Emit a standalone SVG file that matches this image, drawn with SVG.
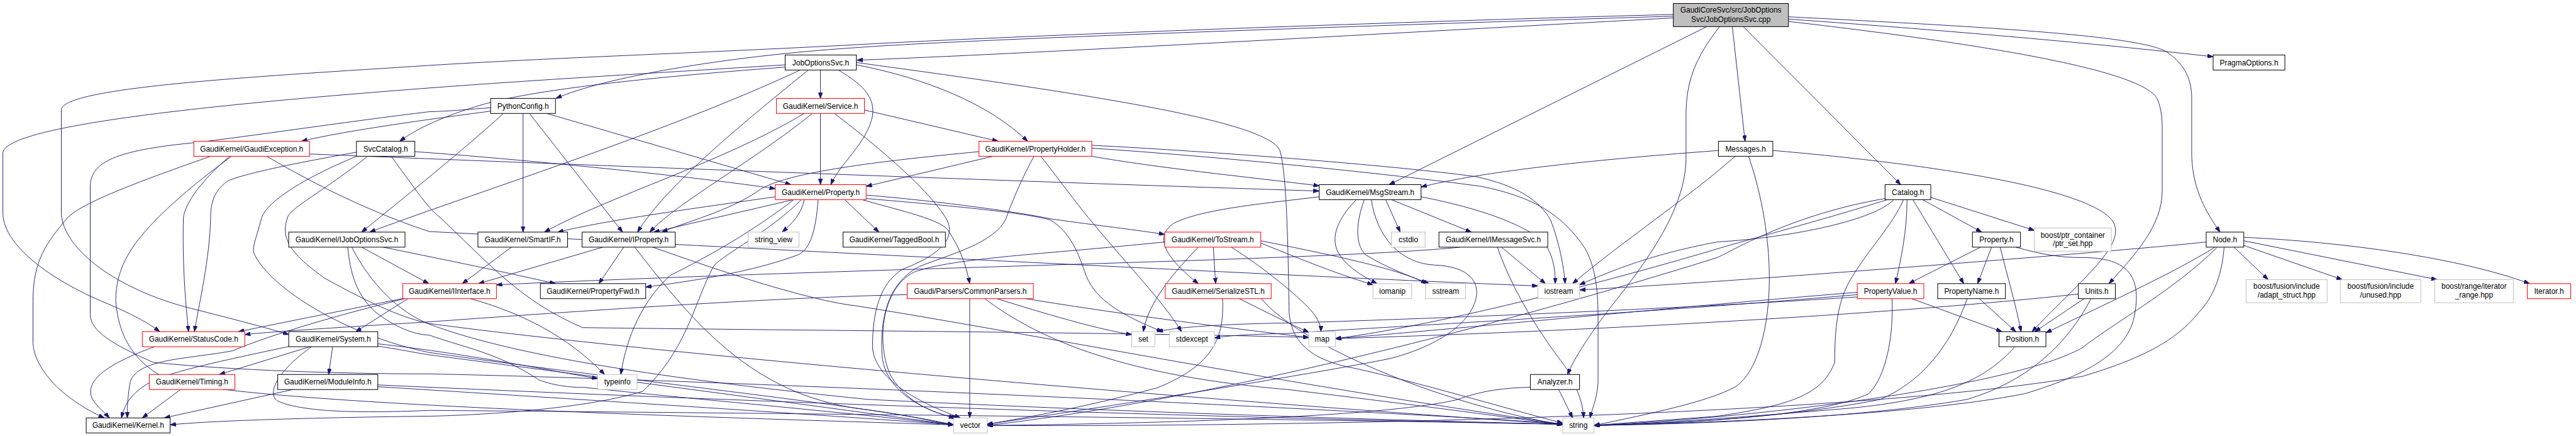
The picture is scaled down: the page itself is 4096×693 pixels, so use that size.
<svg xmlns="http://www.w3.org/2000/svg" width="4096" height="693" viewBox="0 0 4096 693">
<style>
.e path{fill:none;stroke:#191970;stroke-width:1}
.n rect{fill:#fff;stroke:#000;stroke-width:1.1}
.r rect{stroke:#ff0000}
.g rect{stroke:#bfbfbf}
.root rect{fill:#bfbfbf}
text{font-family:"Liberation Sans",Arial,sans-serif;font-size:13px;text-anchor:middle;fill:#000}
</style>
<defs>
<marker id="a" viewBox="0 0 10 7" refX="10" refY="3.5" markerWidth="10" markerHeight="7" markerUnits="userSpaceOnUse" orient="auto"><path d="M0,0L10,3.5L0,7z" fill="#191970" stroke="#191970" stroke-width="1"/></marker>
</defs>
<rect width="4096" height="693" fill="#fff"/>
<g transform="scale(0.92)">
<g id="edges" class="e" marker-end="url(#a)">
<path d="M2892,31 C2500,52 1800,92 1481,104"/>
<path d="M2892,28 C2500,40 1700,66 1484,82 C1250,97 1040,135 961,170"/>
<path d="M2892,25 C2400,38 1750,62 1484,77 C1200,92 950,100 742,113 C450,132 106,150 106,190 L106,370 C110,430 200,500 331,533 C410,553 460,566 499,578"/>
<path d="M2950,46 L2401,319"/>
<path d="M2972,46 C2930,100 2914,140 2914,200 L2914,280 C2910,350 2870,420 2800,510 C2760,560 2725,610 2709,647"/>
<path d="M2994,46 L3016,244"/>
<path d="M3013,46 L3285,319"/>
<path d="M3091,29 C3400,45 3700,60 3745,90 C3778,112 3788,140 3788,170 L3788,270 C3790,330 3815,370 3837,401"/>
<path d="M3091,33 C3400,55 3650,78 3825,98"/>
<path d="M3091,37 C3420,75 3700,120 3728,170 C3737,190 3737,210 3737,230 L3737,330 C3737,390 3690,440 3645,490"/>
<path d="M1357,112 C1100,128 900,140 742,152 C400,178 5,215 5,265 L5,370 C8,430 100,490 189,526 C230,544 255,557 276,573"/>
<path d="M1357,116 C1100,135 900,158 820,185 C770,200 720,222 691,244"/>
<path d="M1383,121 C1150,230 800,340 639,401"/>
<path d="M1397,121 C1300,200 1150,320 1102,401"/>
<path d="M1418,121 L1418,170"/>
<path d="M1449,121 C1495,148 1512,170 1508,200 C1500,245 1450,285 1436,319"/>
<path d="M1480,112 C1600,135 1710,180 1776,244"/>
<path d="M1480,108 C1900,165 2190,210 2212,260 C2224,300 2226,420 2228,540 C2232,600 2280,625 2340,636 C2450,660 2600,705 2701,731"/>
<path d="M848,192 C750,205 600,225 521,244"/>
<path d="M848,186 C800,190 760,193 742,193 C600,210 400,240 331,247 C200,260 158,280 156,320 L156,543 C156,570 189,593 265,626 C400,640 600,646 742,646 C1200,655 2300,705 2701,732"/>
<path d="M870,196 C800,260 700,340 625,401"/>
<path d="M904,196 L904,401"/>
<path d="M915,196 L1076,401"/>
<path d="M945,196 L1367,319"/>
<path d="M1390,196 C1250,280 1050,340 941,401"/>
<path d="M1404,196 C1300,280 1170,350 1123,401"/>
<path d="M1418,196 L1418,319"/>
<path d="M1494,190 L1725,244"/>
<path d="M1442,196 C1500,240 1600,320 1635,377 C1660,420 1600,450 1560,465 C1520,490 1508,540 1508,600 C1512,660 1600,700 1660,722"/>
<path d="M1716,270 L1497,322"/>
<path d="M1692,262 C1500,280 1350,300 1310,330 C1260,365 1180,385 1144,401"/>
<path d="M1887,270 C2000,290 2150,305 2280,321"/>
<path d="M1887,256 C2100,270 2400,300 2560,322 C2650,340 2700,370 2740,430 C2762,470 2762,520 2762,560 L2762,660 C2760,690 2752,705 2748,722"/>
<path d="M1887,251 C2100,262 2400,285 2550,305 C2620,320 2660,345 2680,380 C2695,420 2703,460 2705,490"/>
<path d="M1787,270 C1760,320 1745,360 1739,377 C1720,420 1640,440 1590,460 C1530,490 1520,560 1525,620 C1535,680 1600,710 1650,722"/>
<path d="M1799,270 C1830,310 1860,350 1881,376 C1950,460 2010,520 2042,573"/>
<path d="M2280,340 C2200,350 2080,360 2030,385 C1990,410 2020,450 2071,490"/>
<path d="M2395,345 L2420,401"/>
<path d="M2405,345 L2543,401"/>
<path d="M2344,345 C2320,370 2300,400 2310,430 C2320,455 2350,475 2380,490"/>
<path d="M2358,345 C2345,380 2340,420 2360,440 C2400,465 2440,478 2470,490"/>
<path d="M2370,345 C2380,410 2420,455 2480,458 C2530,460 2555,480 2552,510 C2545,560 2480,600 2400,620 C2300,640 2000,690 1706,733"/>
<path d="M2456,340 C2560,360 2640,390 2670,420 C2685,445 2688,465 2688,490"/>
<path d="M2595,427 L2671,490"/>
<path d="M2588,427 C2620,520 2680,600 2710,640 C2730,680 2736,700 2737,722"/>
<path d="M2524,427 C2300,450 1500,462 858,492"/>
<path d="M2970,260 C2700,280 2550,300 2456,323"/>
<path d="M2999,270 C2920,340 2800,420 2718,490"/>
<path d="M3022,270 C3040,320 3058,400 3058,480 C3058,560 3040,640 3000,668 C2950,695 2850,715 2755,735"/>
<path d="M3064,260 C3300,280 3600,320 3650,380 C3680,420 3600,480 3512,573"/>
<path d="M3323,345 L3425,401"/>
<path d="M3337,341 L3516,398"/>
<path d="M3306,345 L3394,490"/>
<path d="M3296,345 C3296,400 3285,450 3276,490"/>
<path d="M3290,345 C3270,390 3230,430 3200,480 C3175,520 3171,570 3171,626 C3150,680 3100,700 2968,719 C2880,726 2800,731 2755,735"/>
<path d="M3273,345 C3240,380 3100,410 2968,418 C2850,440 2780,470 2730,492"/>
<path d="M3262,345 C3150,380 3000,420 2968,430 C2800,480 2500,560 2308,585"/>
<path d="M3258,343 C3100,370 3000,430 2968,445 C2600,560 2100,690 1706,735"/>
<path d="M3423,427 L3299,490"/>
<path d="M3442,427 L3418,490"/>
<path d="M3457,427 C3470,480 3485,530 3493,573"/>
<path d="M3484,427 C3530,440 3560,445 3600,445 C3680,445 3700,480 3690,540 C3680,610 3600,650 3500,680 C3300,720 2900,732 2755,735"/>
<path d="M3304,516 L3460,573"/>
<path d="M3270,516 C3273,580 3260,650 3230,680 C3150,720 2900,732 2755,735"/>
<path d="M3210,505 C2900,530 2500,570 2308,585"/>
<path d="M3210,509 C2800,545 2300,570 2226,576 C2150,578 2120,580 2099,584"/>
<path d="M3210,513 C2800,540 2300,556 2226,558 C2100,560 2030,566 2000,573"/>
<path d="M3421,516 L3484,573"/>
<path d="M3400,516 C3370,600 3320,660 3250,690 C3100,720 2900,732 2755,735"/>
<path d="M3602,516 L3517,573"/>
<path d="M3614,516 C3570,600 3500,660 3400,690 C3200,725 2900,733 2755,735"/>
<path d="M3592,508 C3300,540 2800,570 2308,585"/>
<path d="M3483,598 C3430,660 3350,690 3200,705 C3000,722 2850,732 2755,735"/>
<path d="M3861,427 L3920,483"/>
<path d="M3878,424 L4048,483"/>
<path d="M3878,416 L4212,483"/>
<path d="M3878,410 C4050,418 4250,445 4372,490"/>
<path d="M3813,418 C3710,430 3200,470 2968,486 C2850,494 2780,498 2730,501"/>
<path d="M3828,427 C3760,470 3650,520 3536,575"/>
<path d="M3832,427 C3760,500 3650,560 3600,600 C3500,660 3100,718 2755,735"/>
<path d="M3844,427 C3840,480 3823,516 3800,540 C3760,590 3700,620 3600,650 C3200,720 2200,738 1706,735"/>
<path d="M2694,673 L2718,722"/>
<path d="M2645,669 C2600,670 2560,675 2520,690 C2400,720 2000,732 1706,735"/>
<path d="M625,427 L741,490"/>
<path d="M662,427 C750,445 850,465 960,490"/>
<path d="M601,427 C605,470 615,509 650,540 C690,570 720,578 742,579 C800,600 860,609 931,656 C960,668 1000,670 1007,669 C1200,690 1400,706 1648,734"/>
<path d="M608,427 C640,490 690,540 742,560 C900,620 1200,660 1500,690 C2000,715 2500,728 2701,733"/>
<path d="M705,516 L615,573"/>
<path d="M705,514 C600,535 500,555 412,573"/>
<path d="M700,516 C600,540 473,576 402,606 C330,620 237,619 225,660 C220,690 220,705 220,722"/>
<path d="M813,516 C900,540 980,580 1045,647"/>
<path d="M884,427 L799,490"/>
<path d="M1042,427 L827,490"/>
<path d="M1078,427 L1035,490"/>
<path d="M1097,427 C1200,560 1300,680 1484,706 C1560,715 1610,728 1648,734"/>
<path d="M1128,427 C1250,470 1400,520 1484,529 C1800,580 2200,660 2701,733"/>
<path d="M1340,340 C1200,360 1050,380 964,401"/>
<path d="M1371,345 L1130,401"/>
<path d="M1390,345 C1385,370 1370,385 1352,401"/>
<path d="M1460,345 L1519,401"/>
<path d="M1497,337 C1650,350 1780,370 1815,378 C1900,390 1970,398 2013,405"/>
<path d="M1414,345 C1410,400 1400,430 1380,440 C1300,470 1200,485 1116,496"/>
<path d="M1490,345 C1560,365 1630,380 1640,400 C1660,430 1670,460 1676,490"/>
<path d="M1372,345 C1300,400 1230,440 1158,476 C1100,530 1080,600 1073,647"/>
<path d="M1385,345 C1330,400 1250,440 1234,459 C1200,520 1190,600 1111,676 C1000,710 800,718 742,719 C500,722 350,728 294,734"/>
<path d="M1497,343 C1700,360 1780,370 1815,380 C1850,400 1865,440 1877,476 C1895,520 1940,545 2009,573"/>
<path d="M2071,427 C2030,470 1985,520 1976,573"/>
<path d="M2097,427 L2101,490"/>
<path d="M2179,420 C2230,440 2300,470 2373,492"/>
<path d="M2179,416 C2300,440 2420,465 2466,490"/>
<path d="M2128,427 C2180,460 2230,500 2260,530 C2275,545 2283,560 2283,573"/>
<path d="M2013,418 C1800,440 1650,445 1580,470 C1520,500 1515,600 1540,650 C1570,700 1620,716 1655,722"/>
<path d="M2113,516 C2116,580 2100,630 2000,670 C1850,710 1750,725 1706,733"/>
<path d="M2142,516 C2190,540 2230,560 2262,574"/>
<path d="M2180,516 C2250,600 2500,700 2701,734"/>
<path d="M1676,516 L1676,722"/>
<path d="M1723,516 C1800,540 1900,570 1956,578"/>
<path d="M1702,516 C1800,590 1950,650 2226,673 C2450,700 2600,720 2701,734"/>
<path d="M1773,516 C1950,545 2150,570 2262,583"/>
<path d="M1568,509 C1300,515 900,545 742,556 C600,565 480,572 423,578"/>
<path d="M364,270 C250,310 140,350 116,377 C80,420 57,450 57,520 L57,593 C60,640 110,690 180,722"/>
<path d="M397,270 C350,310 320,350 317,376 C315,450 320,520 326,573"/>
<path d="M400,270 C360,300 320,330 272,377 C230,420 200,460 200,520 C205,580 230,630 300,660 C500,700 1200,720 1648,734"/>
<path d="M461,270 C580,340 680,380 742,400 C1500,440 2300,480 2658,494"/>
<path d="M535,266 C1000,285 1800,315 2280,330"/>
<path d="M717,262 C900,275 1200,305 1340,326"/>
<path d="M616,263 C520,280 420,300 393,313 C370,330 364,350 364,377 C362,450 345,520 336,573"/>
<path d="M616,270 C520,310 460,350 452,377 C440,420 435,430 440,440 C470,500 600,580 742,609 C1100,660 1500,700 1648,734"/>
<path d="M634,271 C560,330 500,360 497,376 C480,420 520,450 560,480 C650,530 700,550 742,559 C1200,620 2200,700 2701,733"/>
<path d="M677,271 C720,330 740,360 761,376 C850,460 900,520 1007,566 C1300,570 2000,575 2262,583"/>
<path d="M539,598 L379,647"/>
<path d="M575,598 L568,647"/>
<path d="M502,598 C400,620 300,640 260,660 C225,680 215,700 210,722"/>
<path d="M540,598 C480,640 460,680 480,693 C520,710 600,715 742,709 C1500,715 2300,725 2701,733"/>
<path d="M653,598 C700,605 720,610 742,613 C1100,660 1400,700 1648,734"/>
<path d="M653,594 C800,610 950,640 1033,654"/>
<path d="M270,598 C180,630 145,660 160,690 C170,705 180,712 189,722"/>
<path d="M312,673 L246,722"/>
<path d="M506,673 L284,722"/>
<path d="M653,665 C1200,690 2000,720 2701,733"/>
<path d="M653,668 C1000,690 1400,715 1648,734"/>
</g>
<g id="nodes">
<g id="n_root" class="n root"><rect x="2892" y="6" width="199" height="40"/><text x="2991.5" y="22">GaudiCoreSvc/src/JobOptions</text><text x="2991.5" y="37.5">Svc/JobOptionsSvc.cpp</text></g>
<g id="n_jos" class="n"><rect x="1357" y="95" width="123" height="26"/><text x="1418.5" y="112.5">JobOptionsSvc.h</text></g>
<g id="n_pyconf" class="n"><rect x="848" y="170" width="112" height="26"/><text x="904" y="187.5">PythonConfig.h</text></g>
<g id="n_service" class="n r"><rect x="1342" y="170" width="152" height="26"/><text x="1418" y="187.5">GaudiKernel/Service.h</text></g>
<g id="n_propholder" class="n r"><rect x="1692" y="244" width="195" height="26"/><text x="1789.5" y="261.5">GaudiKernel/PropertyHolder.h</text></g>
<g id="n_gexc" class="n r"><rect x="335" y="244" width="200" height="26"/><text x="435" y="261.5">GaudiKernel/GaudiException.h</text></g>
<g id="n_svccat" class="n"><rect x="616" y="244" width="101" height="26"/><text x="666.5" y="261.5">SvcCatalog.h</text></g>
<g id="n_gkprop" class="n r"><rect x="1340" y="319" width="157" height="26"/><text x="1418.5" y="336.5">GaudiKernel/Property.h</text></g>
<g id="n_msgstream" class="n"><rect x="2280" y="319" width="176" height="26"/><text x="2368" y="336.5">GaudiKernel/MsgStream.h</text></g>
<g id="n_messages" class="n"><rect x="2970" y="244" width="94" height="26"/><text x="3017" y="261.5">Messages.h</text></g>
<g id="n_catalog" class="n"><rect x="3258" y="319" width="79" height="26"/><text x="3297.5" y="336.5">Catalog.h</text></g>
<g id="n_pragma" class="n"><rect x="3825" y="95" width="124" height="26"/><text x="3887" y="112.5">PragmaOptions.h</text></g>
<g id="n_node" class="n"><rect x="3813" y="401" width="65" height="26"/><text x="3845.5" y="418.5">Node.h</text></g>
<g id="n_ijos" class="n"><rect x="499" y="401" width="201" height="26"/><text x="599.5" y="418.5">GaudiKernel/IJobOptionsSvc.h</text></g>
<g id="n_smartif" class="n"><rect x="826" y="401" width="155" height="26"/><text x="903.5" y="418.5">GaudiKernel/SmartIF.h</text></g>
<g id="n_iprop" class="n"><rect x="1006" y="401" width="161" height="26"/><text x="1086.5" y="418.5">GaudiKernel/IProperty.h</text></g>
<g id="n_strview" class="n g"><rect x="1293" y="401" width="88" height="26"/><text x="1337" y="418.5">string_view</text></g>
<g id="n_taggedbool" class="n"><rect x="1457" y="401" width="177" height="26"/><text x="1545.5" y="418.5">GaudiKernel/TaggedBool.h</text></g>
<g id="n_tostream" class="n r"><rect x="2013" y="401" width="166" height="26"/><text x="2096" y="418.5">GaudiKernel/ToStream.h</text></g>
<g id="n_cstdio" class="n g"><rect x="2405" y="401" width="58" height="26"/><text x="2434" y="418.5">cstdio</text></g>
<g id="n_imsgsvc" class="n"><rect x="2487" y="401" width="188" height="26"/><text x="2581" y="418.5">GaudiKernel/IMessageSvc.h</text></g>
<g id="n_property" class="n"><rect x="3409" y="401" width="83" height="26"/><text x="3450.5" y="418.5">Property.h</text></g>
<g id="n_ptrset" class="n g"><rect x="3516" y="394" width="133" height="40"/><text x="3582.5" y="410.5">boost/ptr_container</text><text x="3582.5" y="425.5">/ptr_set.hpp</text></g>
<g id="n_iinterface" class="n r"><rect x="696" y="490" width="162" height="26"/><text x="777" y="507.5">GaudiKernel/IInterface.h</text></g>
<g id="n_propfwd" class="n"><rect x="934" y="490" width="182" height="26"/><text x="1025" y="507.5">GaudiKernel/PropertyFwd.h</text></g>
<g id="n_commonparsers" class="n r"><rect x="1568" y="490" width="218" height="26"/><text x="1677" y="507.5">Gaudi/Parsers/CommonParsers.h</text></g>
<g id="n_serializestl" class="n r"><rect x="2014" y="490" width="183" height="26"/><text x="2105.5" y="507.5">GaudiKernel/SerializeSTL.h</text></g>
<g id="n_iomanip" class="n g"><rect x="2373" y="490" width="67" height="26"/><text x="2406.5" y="507.5">iomanip</text></g>
<g id="n_sstream" class="n g"><rect x="2464" y="490" width="69" height="26"/><text x="2498.5" y="507.5">sstream</text></g>
<g id="n_iostream" class="n g"><rect x="2658" y="490" width="72" height="26"/><text x="2694" y="507.5">iostream</text></g>
<g id="n_propvalue" class="n r"><rect x="3210" y="490" width="115" height="26"/><text x="3267.5" y="507.5">PropertyValue.h</text></g>
<g id="n_propname" class="n"><rect x="3349" y="490" width="117" height="26"/><text x="3407.5" y="507.5">PropertyName.h</text></g>
<g id="n_units" class="n"><rect x="3592" y="490" width="64" height="26"/><text x="3624" y="507.5">Units.h</text></g>
<g id="n_adapt" class="n g"><rect x="3882" y="483" width="140" height="40"/><text x="3952" y="499">boost/fusion/include</text><text x="3952" y="514">/adapt_struct.hpp</text></g>
<g id="n_unused" class="n g"><rect x="4045" y="483" width="139" height="40"/><text x="4114.5" y="499">boost/fusion/include</text><text x="4114.5" y="514">/unused.hpp</text></g>
<g id="n_itrange" class="n g"><rect x="4208" y="483" width="136" height="40"/><text x="4276" y="499">boost/range/iterator</text><text x="4276" y="514">_range.hpp</text></g>
<g id="n_iterator" class="n r"><rect x="4368" y="490" width="75" height="26"/><text x="4405.5" y="507.5">Iterator.h</text></g>
<g id="n_statuscode" class="n r"><rect x="246" y="573" width="177" height="26"/><text x="334.5" y="590.5">GaudiKernel/StatusCode.h</text></g>
<g id="n_system" class="n"><rect x="499" y="573" width="154" height="26"/><text x="576" y="590.5">GaudiKernel/System.h</text></g>
<g id="n_set" class="n g"><rect x="1956" y="573" width="40" height="26"/><text x="1976" y="590.5">set</text></g>
<g id="n_stdexcept" class="n g"><rect x="2021" y="573" width="78" height="26"/><text x="2060" y="590.5">stdexcept</text></g>
<g id="n_map" class="n g"><rect x="2262" y="573" width="46" height="26"/><text x="2285" y="590.5">map</text></g>
<g id="n_position" class="n"><rect x="3455" y="573" width="81" height="26"/><text x="3495.5" y="590.5">Position.h</text></g>
<g id="n_timing" class="n r"><rect x="258" y="647" width="148" height="26"/><text x="332" y="664.5">GaudiKernel/Timing.h</text></g>
<g id="n_moduleinfo" class="n"><rect x="480" y="647" width="173" height="26"/><text x="566.5" y="664.5">GaudiKernel/ModuleInfo.h</text></g>
<g id="n_typeinfo" class="n g"><rect x="1033" y="647" width="68" height="26"/><text x="1067" y="664.5">typeinfo</text></g>
<g id="n_analyzer" class="n"><rect x="2645" y="647" width="85" height="26"/><text x="2687.5" y="664.5">Analyzer.h</text></g>
<g id="n_kernel" class="n"><rect x="149" y="722" width="145" height="26"/><text x="221.5" y="739.5">GaudiKernel/Kernel.h</text></g>
<g id="n_vector" class="n g"><rect x="1648" y="722" width="58" height="26"/><text x="1677" y="739.5">vector</text></g>
<g id="n_string" class="n g"><rect x="2701" y="722" width="54" height="26"/><text x="2728" y="739.5">string</text></g>
</g>
</g>
</svg>
